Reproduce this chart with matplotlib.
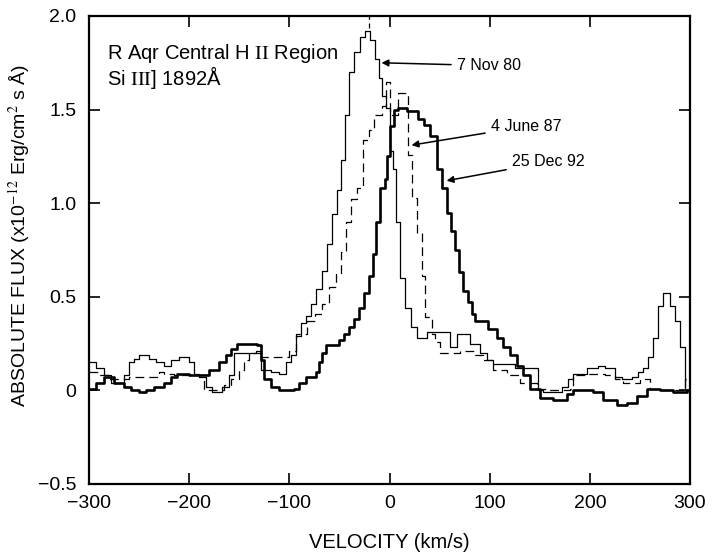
import numpy as np
import matplotlib
matplotlib.use("Agg")
import matplotlib.pyplot as plt

# --- Data (step histograms: left edge of each bin) ---
V_NOV80 = [-300, -293, -285, -278, -265, -260, -255, -250, -240, -233, -225, -218,
           -210, -200, -195, -190, -183, -177, -167, -160, -155, -128, -118, -110,
           -103, -98, -93, -88, -83, -78, -73, -67, -62, -57, -52, -48, -44, -40,
           -35, -29, -24, -19, -14, -11, -8, -4, 0, 3, 6, 10, 15, 21, 27, 37, 60,
           67, 80, 90, 97, 103, 125, 148, 153, 172, 178, 183, 197, 208, 215, 225,
           232, 242, 248, 253, 258, 263, 268, 273, 280, 285, 290, 295, 300]
F_NOV80 = [0.15, 0.12, 0.08, 0.04, 0.08, 0.15, 0.17, 0.19, 0.17, 0.15, 0.13, 0.16,
           0.18, 0.15, 0.09, 0.07, 0.02, -0.01, 0.02, 0.08, 0.20, 0.11, 0.10, 0.09,
           0.15, 0.19, 0.29, 0.36, 0.40, 0.46, 0.54, 0.64, 0.78, 0.94, 1.07, 1.23, 1.47, 1.70,
           1.81, 1.89, 1.92, 1.87, 1.77, 1.67, 1.57, 1.51, 1.28, 1.18, 0.90, 0.60, 0.44, 0.34, 0.28, 0.31, 0.23,
           0.30, 0.25, 0.20, 0.16, 0.14, 0.12, 0.00, -0.01, 0.02, 0.06, 0.09, 0.12, 0.13, 0.12, 0.07,
           0.06, 0.07, 0.10, 0.12, 0.18, 0.28, 0.45, 0.52, 0.45, 0.37, 0.23, 0.00, 0.00]

V_JUN87 = [-300, -290, -280, -260, -250, -230, -225, -215, -190, -185, -165, -158,
           -150, -145, -140, -133, -128, -100, -93, -82, -74, -67, -60, -53, -48,
           -43, -38, -32, -26, -20, -15, -8, -4, 0, 8, 18, 22, 27, 32, 35, 42, 45,
           50, 70, 85, 93, 103, 117, 130, 147, 160, 180, 183, 197, 215, 225, 233,
           250, 260, 270, 295, 300]
F_JUN87 = [0.10, 0.08, 0.06, 0.07, 0.07, 0.10, 0.09, 0.08, 0.08, 0.00, 0.03, 0.06,
           0.11, 0.16, 0.20, 0.21, 0.18, 0.21, 0.30, 0.37, 0.41, 0.46, 0.55, 0.62, 0.74,
           0.90, 1.02, 1.08, 1.34, 1.39, 1.47, 1.52, 1.65, 1.47, 1.59, 1.26, 1.03, 0.84, 0.61, 0.39, 0.30, 0.26,
           0.20, 0.21, 0.19, 0.16, 0.11, 0.08, 0.04, 0.01, 0.00, 0.01, 0.08, 0.09, 0.08, 0.06, 0.04,
           0.06, 0.01, 0.00, 0.06, 0.06]

V_DEC92 = [-300, -293, -285, -275, -265, -258, -250, -243, -235, -225, -218, -212,
           -200, -190, -180, -170, -163, -158, -152, -132, -128, -125, -118, -110,
           -95, -90, -83, -73, -70, -67, -63, -50, -45, -40, -35, -30, -25, -20,
           -16, -13, -10, -5, -3, 0, 4, 8, 17, 28, 34, 40, 47, 52, 57, 61, 65, 69,
           73, 78, 82, 85, 98, 107, 113, 120, 127, 133, 140, 150, 163, 177, 183,
           203, 213, 227, 237, 247, 257, 270, 283, 297, 300]
F_DEC92 = [0.01, 0.04, 0.07, 0.04, 0.02, 0.00, -0.01, 0.00, 0.02, 0.04, 0.07, 0.09,
           0.08, 0.08, 0.11, 0.15, 0.19, 0.22, 0.25, 0.24, 0.16, 0.06, 0.02, 0.00,
           0.01, 0.04, 0.07, 0.10, 0.15, 0.20, 0.24, 0.27, 0.30, 0.34, 0.38, 0.44, 0.52, 0.61,
           0.73, 0.90, 1.08, 1.13, 1.25, 1.41, 1.50, 1.51, 1.49, 1.45, 1.42, 1.36, 1.18, 1.08, 0.95, 0.85, 0.75, 0.63,
           0.53, 0.47, 0.41, 0.37, 0.33, 0.28, 0.23, 0.19, 0.13, 0.08, 0.01, -0.04, -0.05, -0.02, 0.00,
           -0.01, -0.05, -0.08, -0.07, -0.03, 0.01, 0.00, -0.01, 0.00, 0.00]

PEAK_MARKS = [-20]

X_TICKS = [-300, -200, -100, 0, 100, 200, 300]
X_TICKLABELS = ["\u2212300", "\u2212200", "\u2212100", "0", "100", "200", "300"]
Y_TICKS = [-0.5, 0, 0.5, 1.0, 1.5, 2.0]
Y_TICKLABELS = ["\u22120.5", "0", "0.5", "1.0", "1.5", "2.0"]

# label text, arrow tip (v, flux), text anchor (v, flux)
LABELS = ["7 Nov 80", "4 June 87", "25 Dec 92"]
ARROW_TIPS = [(-8, 1.75), (22, 1.31), (57, 1.12)]
TEXT_POS = [(67, 1.735), (101, 1.41), (122, 1.22)]

plt.rcParams['font.family'] = ['Liberation Sans', 'DejaVu Sans']
plt.rcParams['mathtext.fontset'] = 'stix'

fig = plt.figure(figsize=(7.22, 5.53), dpi=100)
ax = fig.add_axes([0.1233, 0.1248, 0.8324, 0.8463])

ax.plot(V_NOV80, F_NOV80, drawstyle='steps-post', color='black', lw=0.9)
ax.plot(V_JUN87, F_JUN87, drawstyle='steps-post', color='black', lw=0.9,
        dashes=(7, 4))
ax.plot(V_DEC92, F_DEC92, drawstyle='steps-post', color='black', lw=1.9)

for v in PEAK_MARKS:
    ax.axvline(v, ymin=0.975, ymax=1.0, color='black', lw=0.9, ls=(0, (4, 3)))

for lab, tip, pos in zip(LABELS, ARROW_TIPS, TEXT_POS):
    ax.annotate(lab, xy=tip, xytext=pos, fontsize=11.5, va='center', ha='left',
                arrowprops=dict(arrowstyle='-|>', color='black', lw=1.1,
                                mutation_scale=10, shrinkA=2, shrinkB=0))

ax.text(0.03, 0.945, "R Aqr Central H $\\mathrm{II}$ Region\nSi $\\mathrm{III}$] 1892\u00c5",
        transform=ax.transAxes, fontsize=14.5, va='top', ha='left', linespacing=0.95)

ax.set_xlim(-300, 300)
ax.set_ylim(-0.5, 2.0)
ax.set_xticks(X_TICKS)
ax.set_xticklabels(X_TICKLABELS)
ax.set_yticks(Y_TICKS)
ax.set_yticklabels(Y_TICKLABELS)
ax.tick_params(direction='in', top=True, right=True, length=8, width=1.2,
               labelsize=14)
ax.tick_params(axis='y', pad=9)
ax.tick_params(axis='x', pad=8)
for s in ax.spines.values():
    s.set_linewidth(1.6)

ax.set_xlabel("VELOCITY (km/s)", fontsize=14.5, labelpad=15)
ax.set_ylabel("ABSOLUTE FLUX (x10$^{-12}$ Erg/cm$^2$ s \u00c5)", fontsize=14)
ax.yaxis.set_label_coords(-0.095, 0.53)

fig.savefig("out.png", dpi=100)
